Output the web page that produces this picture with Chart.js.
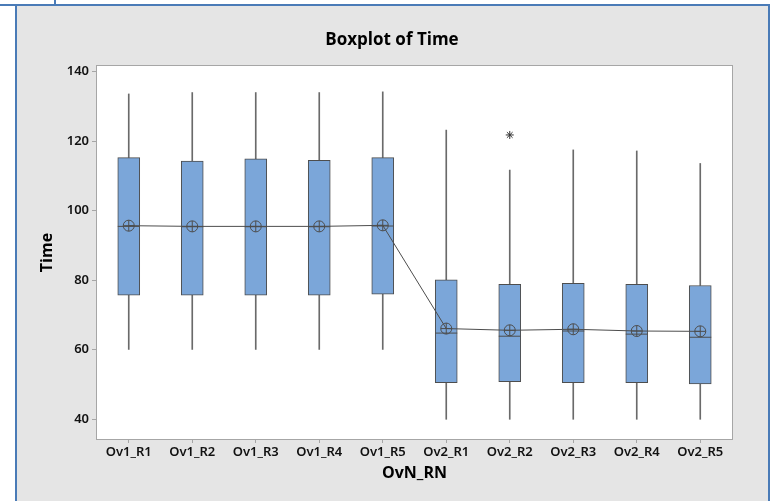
<!DOCTYPE html>
<html>
<head>
<meta charset="utf-8">
<script src="https://cdn.jsdelivr.net/npm/chart.js@4.4.1/dist/chart.umd.min.js"></script>
<style>
    html, body { margin: 0; padding: 0; background: #fff; overflow: hidden; }
    #panel { position: absolute; left: 15px; top: 4px; width: 755px; height: 520px; box-sizing: border-box; border: 2px solid #4a7bb7; background: #e5e5e5; }
    #tab { position: absolute; left: -2px; top: -2px; width: 58px; height: 8px; box-sizing: border-box; border: 2px solid #4a7bb7; background: #fff; }
    #wrap { position: absolute; left: 0; top: 0; width: 773px; height: 501px; }
</style>
</head>
<body>
<div id="panel"></div>
<div id="tab"></div>
<div id="wrap"><canvas id="chart" width="773" height="501"></canvas></div>
<script>
// values
const categories = ["Ov1_R1", "Ov1_R2", "Ov1_R3", "Ov1_R4", "Ov1_R5", "Ov2_R1", "Ov2_R2", "Ov2_R3", "Ov2_R4", "Ov2_R5"];
const whiskerLow = [60.1, 60.1, 60.1, 60.1, 60.1, 40.0, 40.0, 40.0, 40.0, 40.0];
const q1 = [75.7, 75.7, 75.7, 75.7, 76.0, 50.5, 50.8, 50.5, 50.5, 50.2];
const medians = [95.5, 95.4, 95.4, 95.4, 95.6, 64.8, 63.9, 65.4, 64.5, 63.6];
const q3 = [115.3, 114.3, 114.9, 114.5, 115.3, 80.1, 78.8, 79.1, 78.8, 78.5];
const whiskerHigh = [133.6, 134.0, 134.0, 134.0, 134.2, 123.2, 111.7, 117.5, 117.2, 113.6];
const means = [95.7, 95.5, 95.5, 95.5, 95.8, 66.1, 65.6, 65.9, 65.4, 65.3];
const outliers = [null, null, null, null, null, null, 121.8, null, null, null];
const yTicks = [40, 60, 80, 100, 120, 140];

const FONT = "'Open Sans', 'Noto Sans', sans-serif";
const TICK_FONT = "'Noto Sans', 'Open Sans', sans-serif";
const lineGrey = "#4d4d4d";

// white plot area with a thin grey frame
const plotFrame = {
    id: "plotFrame",
    beforeDraw(chart) {
        const { ctx, chartArea: a } = chart;
        ctx.save();
        ctx.fillStyle = "#ffffff";
        ctx.fillRect(a.left, a.top, a.width, a.height);
        ctx.strokeStyle = "#a6a6a6";
        ctx.lineWidth = 1;
        ctx.strokeRect(Math.round(a.left) - 0.5, Math.round(a.top) - 0.5, Math.round(a.width) + 1, Math.round(a.height) + 1);
        ctx.restore();
    },
};

new Chart(document.getElementById("chart"), {
    type: "bar",
    data: {
        labels: categories,
        datasets: [
            {
                // lower whiskers
                data: categories.map((c, i) => [whiskerLow[i], q1[i]]),
                backgroundColor: "#6a6a6a",
                barThickness: 1,
                grouped: false,
                order: 6,
            },
            {
                // upper whiskers
                data: categories.map((c, i) => [q3[i], whiskerHigh[i]]),
                backgroundColor: "#6a6a6a",
                barThickness: 1,
                grouped: false,
                order: 6,
            },
            {
                // boxes
                data: categories.map((c, i) => [q1[i], q3[i]]),
                backgroundColor: "#7ba6d9",
                borderColor: lineGrey,
                borderWidth: 1,
                borderSkipped: false,
                barThickness: 22,
                grouped: false,
                order: 5,
            },
            {
                type: "line",
                data: medians,
                showLine: false,
                pointStyle: "line",
                pointRadius: 11,
                pointBorderColor: lineGrey,
                pointBorderWidth: 1,
                order: 4,
            },
            {
                // mean connect line
                type: "line",
                data: means,
                borderColor: lineGrey,
                borderWidth: 1,
                pointStyle: "circle",
                pointRadius: 5.5,
                pointBackgroundColor: "rgba(0,0,0,0)",
                pointBorderColor: lineGrey,
                pointBorderWidth: 1,
                order: 3,
            },
            {
                type: "line",
                data: means,
                showLine: false,
                pointStyle: "cross",
                pointRadius: 5.5,
                pointBorderColor: lineGrey,
                pointBorderWidth: 1,
                order: 2,
            },
            {
                type: "line",
                data: outliers,
                showLine: false,
                pointStyle: "star",
                pointRadius: 4,
                pointBorderColor: "#333",
                pointBorderWidth: 1,
                order: 1,
            },
        ],
    },
    options: {
        responsive: false,
        animation: false,
        events: [],
        layout: { padding: { left: 21, right: 10, top: 0, bottom: 0 } },
        plugins: {
            legend: { display: false },
            tooltip: { enabled: false },
            title: {
                display: true,
                text: "Boxplot of Time",
                color: "#000",
                font: { family: FONT, size: 17, weight: "bold" },
                padding: { top: 29.8, bottom: 15.8 },
            },
        },
        scales: {
            x: {
                offset: true,
                grid: { display: true, offset: false, drawOnChartArea: false, drawTicks: true, tickLength: 4, color: "#a6a6a6" },
                border: { display: false },
                ticks: { color: "#111", font: { family: TICK_FONT, size: 13, weight: 600 }, padding: 1, maxRotation: 0, autoSkip: false },
                title: { display: true, text: "OvN_RN", color: "#000", font: { family: FONT, size: 16, weight: "bold" }, padding: { top: 0, bottom: 18.4 } },
                afterFit(s) { s.height = 62; },
            },
            y: {
                min: 34.33,
                max: 141.64,
                afterBuildTicks(axis) { axis.ticks = yTicks.map((v) => ({ value: v })); },
                grid: { display: true, drawOnChartArea: false, drawTicks: true, tickLength: 5, color: "#a6a6a6" },
                border: { display: false },
                ticks: { color: "#111", font: { family: TICK_FONT, size: 13, weight: 600 }, padding: 3 },
                title: { display: true, text: "Time", color: "#000", font: { family: FONT, size: 16, weight: "bold" }, padding: { top: 16.4, bottom: 0 } },
                afterFit(s) { s.width = 76; },
            },
            y2: {
                position: "right",
                display: true,
                grid: { display: false },
                border: { display: false },
                ticks: { display: false },
                afterFit(s) { s.width = 31; },
            },
        },
    },
    plugins: [plotFrame],
});
</script>
</body>
</html>
